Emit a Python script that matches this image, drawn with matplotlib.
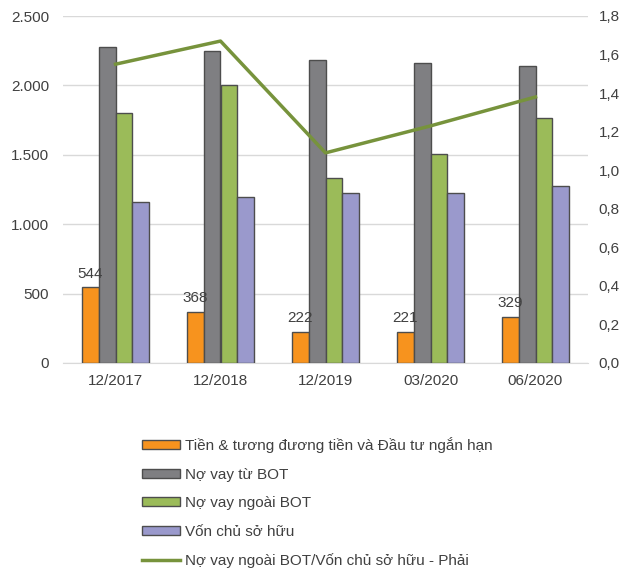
import numpy as np
import matplotlib
matplotlib.use("Agg")
import matplotlib.pyplot as plt
from matplotlib.patches import Patch
from matplotlib.lines import Line2D

plt.rcParams["font.family"] = ["Liberation Sans", "DejaVu Sans"]

periods = ["12/2017", "12/2018", "12/2019", "03/2020", "06/2020"]
cash = [544, 368, 222, 221, 329]
debt_bot = [2280, 2248, 2183, 2159, 2138]
debt_other = [1803, 2003, 1330, 1508, 1765]
equity = [1158, 1196, 1225, 1225, 1277]
ratio = [1.55, 1.67, 1.09, 1.23, 1.38]

series_names = [
    "Tiền & tương đương tiền và Đầu tư ngắn hạn",
    "Nợ vay từ BOT",
    "Nợ vay ngoài BOT",
    "Vốn chủ sở hữu",
]
line_name = "Nợ vay ngoài BOT/Vốn chủ sở hữu - Phải"
colors = ["#F7931E", "#7F7F82", "#9BBB59", "#9A99CC"]
line_color = "#77933C"
text_color = "#404040"

fig = plt.figure(figsize=(6.24, 5.72), dpi=100)
ax = fig.add_axes([63 / 624, 1 - 363 / 572, 525 / 624, 347 / 572])
ax2 = ax.twinx()

x = np.arange(len(periods))
width = 0.16
offsets = np.array([-1.5, -0.5, 0.5, 1.5]) * width
bars_data = [cash, debt_bot, debt_other, equity]
for vals, off, col in zip(bars_data, offsets, colors):
    ax.bar(x + off, vals, width, color=col, edgecolor="#4D4D4D", linewidth=1.0, zorder=3)

# value labels above the cash bars
for xi, v in zip(x + offsets[0], cash):
    ax.annotate(f"{v}", (xi, v), xytext=(0, 5), textcoords="offset points",
                ha="center", va="bottom", fontsize=11, color=text_color)

ax2.plot(x, ratio, color=line_color, linewidth=2.5, zorder=4)

ax.set_xlim(-0.5, len(periods) - 0.5)
ax.set_ylim(0, 2500)
ax.set_yticks(np.arange(0, 2501, 500))
ax.set_yticklabels(["0", "500", "1.000", "1.500", "2.000", "2.500"])
ax2.set_ylim(0, 1.8)
ax2.set_yticks(np.arange(0, 1.81, 0.2))
ax2.set_yticklabels([f"{v:.1f}".replace(".", ",") for v in np.arange(0, 1.81, 0.2)])

ax.set_xticks(x)
ax.set_xticklabels(periods)
ax.grid(axis="y", color="#D9D9D9", linewidth=1.0, zorder=0)
ax.set_axisbelow(True)

for a in (ax, ax2):
    for s in a.spines.values():
        s.set_visible(False)
    a.tick_params(length=0, labelsize=11, colors=text_color)
ax.spines["bottom"].set_visible(True)
ax.spines["bottom"].set_color("#D9D9D9")
ax.tick_params(axis="y", pad=10)
ax.tick_params(axis="x", pad=8)
ax2.tick_params(axis="y", pad=7.5)

handles = [Patch(facecolor=c, edgecolor="#4D4D4D", linewidth=1.0) for c in colors]
handles.append(Line2D([0], [0], color=line_color, linewidth=2.5))
fig.legend(handles, series_names + [line_name], loc="upper left",
           bbox_to_anchor=(142 / 624, 1 - 437 / 572), frameon=False,
           fontsize=11, handlelength=2.5, handleheight=0.55, handletextpad=0.3,
           labelspacing=0.95, borderpad=0, borderaxespad=0, labelcolor=text_color)

fig.savefig("out.png", dpi=100)
